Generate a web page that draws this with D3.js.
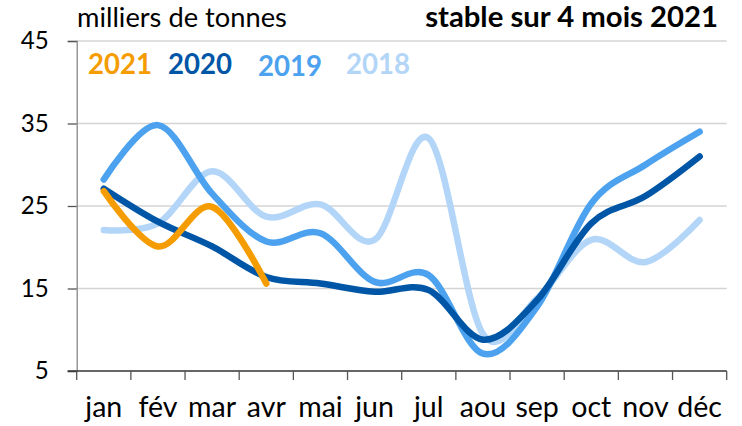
<!DOCTYPE html>
<html>
<head>
<meta charset="utf-8">
<script src="https://cdn.jsdelivr.net/npm/d3@7"></script>
<style>
  html, body { margin: 0; padding: 0; background: #fff; }
  svg { display: block; font-family: Lato, "Open Sans", sans-serif; }
</style>
</head>
<body>
<svg id="chart" width="742" height="426"></svg>
<script>
// Monthly volumes, thousands of tonnes
const months = ["jan", "fév", "mar", "avr", "mai", "jun", "jul", "aou", "sep", "oct", "nov", "déc"];
const v2018 = [22.1, 22.9, 29.2, 23.7, 25.2, 20.9, 33.2, 9.5, 13.8, 20.9, 18.2, 23.3];
const v2019 = [28.2, 34.8, 26.5, 20.7, 21.7, 15.8, 16.6, 7.1, 12.8, 25.3, 30.0, 34.0];
const v2020 = [27.1, 23.1, 20.1, 16.4, 15.6, 14.6, 14.8, 8.8, 13.6, 22.9, 26.2, 31.0];
const v2021 = [26.8, 20.1, 24.9, 15.6];
const yTicks = [5, 15, 25, 35, 45];

const seriesColors = {"2021": "#f59c00", "2020": "#0056a6", "2019": "#4ca2ee", "2018": "#b3d6f8"};
const seriesValues = {"2021": v2021, "2020": v2020, "2019": v2019, "2018": v2018};

const svg = d3.select("#chart");
const plotLeft = 76.7, plotRight = 726.7, plotTop = 41, plotBottom = 371;

const x = d3.scaleBand().domain(months).range([plotLeft, plotRight]).padding(0);
const y = d3.scaleLinear().domain([5, 45]).range([plotBottom, plotTop]);

// font size that makes a sample string span a target width
function sizeFor(text, weight, target) {
  const probe = svg.append("text").attr("font-size", 20).attr("font-weight", weight).text(text);
  const w = probe.node().getComputedTextLength();
  probe.remove();
  return +(20 * target / w).toFixed(2);
}

// horizontal gridlines
svg.append("g")
  .selectAll("line")
  .data(yTicks.filter(t => t > 5))
  .join("line")
  .attr("x1", plotLeft).attr("x2", plotRight)
  .attr("y1", d => y(d)).attr("y2", d => y(d))
  .attr("stroke", "#d4d4d4").attr("stroke-width", 1.3);

// y axis
const yFont = sizeFor("45", "normal", 28);
const yAxis = svg.append("g")
  .attr("transform", `translate(${plotLeft},0)`)
  .call(d3.axisLeft(y).tickValues(yTicks).tickSize(9).tickPadding(19).tickFormat(d3.format("d")));
yAxis.select(".domain").attr("stroke", "#888").attr("stroke-width", 1.3);
yAxis.selectAll(".tick line").attr("stroke", "#555").attr("stroke-width", 1.3);
yAxis.selectAll(".tick text")
  .attr("font-size", yFont).attr("font-family", "Lato, 'Open Sans', sans-serif").attr("fill", "#000");

// x axis: ticks on band boundaries, labels at band centres
const xFont = sizeFor("jan", "normal", 37);
const xg = svg.append("g");
xg.append("line")
  .attr("x1", plotLeft - 9).attr("x2", plotRight)
  .attr("y1", plotBottom).attr("y2", plotBottom)
  .attr("stroke", "#333").attr("stroke-width", 1.3);
const bounds = months.map(m => x(m)).concat([plotRight]);
xg.selectAll("line.tk")
  .data(bounds)
  .join("line")
  .attr("class", "tk")
  .attr("x1", d => d).attr("x2", d => d)
  .attr("y1", plotBottom).attr("y2", plotBottom + 9)
  .attr("stroke", "#555").attr("stroke-width", 1.3);
xg.selectAll("text")
  .data(months)
  .join("text")
  .attr("x", d => x(d) + x.bandwidth() / 2)
  .attr("y", 417)
  .attr("text-anchor", "middle")
  .attr("font-size", xFont)
  .attr("fill", "#000")
  .text(d => d);

// smoothed series lines, oldest year underneath
const line = d3.line()
  .x((d, i) => x(months[i]) + x.bandwidth() / 2)
  .y(d => y(d))
  .curve(d3.curveCatmullRom.alpha(0));

svg.append("g")
  .selectAll("path")
  .data(["2018", "2019", "2020", "2021"])
  .join("path")
  .attr("d", k => line(seriesValues[k]))
  .attr("fill", "none")
  .attr("stroke", k => seriesColors[k])
  .attr("stroke-width", 6.5)
  .attr("stroke-linecap", "round")
  .attr("stroke-linejoin", "round");

// legend: one shared size for all years
const legendFont = sizeFor("2020", "bold", 64);
const legendPos = [
  {name: "2021", x: 88, y: 74},
  {name: "2020", x: 168, y: 74},
  {name: "2019", x: 258, y: 76},
  {name: "2018", x: 346, y: 74}
];
svg.append("g")
  .selectAll("text")
  .data(legendPos)
  .join("text")
  .attr("x", d => d.x).attr("y", d => d.y)
  .attr("font-size", legendFont).attr("font-weight", "bold")
  .attr("fill", d => seriesColors[d.name])
  .text(d => d.name);

// unit label and headline
svg.append("text")
  .attr("x", 77).attr("y", 27)
  .attr("font-size", sizeFor("milliers de tonnes", "normal", 210)).attr("fill", "#000")
  .text("milliers de tonnes");

svg.append("text")
  .attr("x", 718).attr("y", 27)
  .attr("text-anchor", "end")
  .attr("font-size", sizeFor("stable sur 4 mois 2021", "bold", 293))
  .attr("font-weight", "bold").attr("fill", "#000")
  .text("stable sur 4 mois 2021");
</script>
</body>
</html>
